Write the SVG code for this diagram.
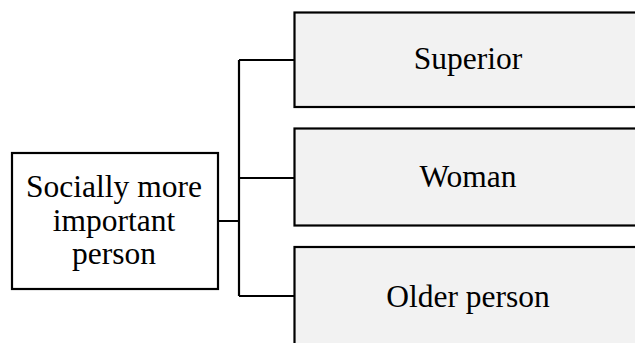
<svg xmlns="http://www.w3.org/2000/svg" width="635" height="343" viewBox="0 0 635 343">
<style>
.box{stroke:#000;stroke-width:2.2;}
.l{fill:#fff;}
.r{fill:#f2f2f2;}
text{font-family:"Liberation Serif","Times New Roman",serif;font-size:31.5px;fill:#000;text-anchor:middle;}
.c{fill:none;stroke:#000;stroke-width:2.2;}
</style>
<rect width="635" height="343" fill="#fff"/>
<g id="connectors">
<path class="c" d="M218,221 H239 M239,60 V296 M239,60 H295 M239,178 H295 M239,296 H295"/>
</g>
<g id="root">
<rect class="box l" x="12" y="153" width="206" height="136"/>
<text x="114" y="197">Socially more</text>
<text x="114" y="231">important</text>
<text x="114" y="264">person</text>
</g>
<g id="superior">
<rect class="box r" x="294.5" y="12.5" width="350" height="94.5"/>
<text x="468" y="69">Superior</text>
</g>
<g id="woman">
<rect class="box r" x="294.5" y="128.5" width="350" height="97"/>
<text x="468" y="187">Woman</text>
</g>
<g id="older">
<rect class="box r" x="294.5" y="247" width="350" height="110"/>
<text x="468" y="307">Older person</text>
</g>
</svg>
